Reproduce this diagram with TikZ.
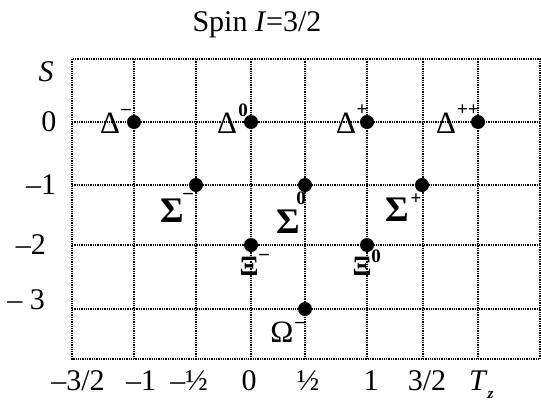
\documentclass[tikz,border=0pt]{standalone}
\usepackage{fontspec}
\setmainfont{Liberation Serif}
\begin{document}
\begin{tikzpicture}[x=1pt,y=-1pt,
  gridline/.style={densely dotted,line width=1.3pt},
  dot/.style={circle,fill=black,inner sep=0pt,minimum size=14pt},
  lbl/.style={inner sep=0pt,font=\fontsize{30}{34}\selectfont},
  grk/.style={inner sep=0pt,font=\fontsize{31}{34}\selectfont},
  xi/.style={inner sep=0pt,font=\fontsize{28}{30}\selectfont\bfseries},
  sig/.style={inner sep=0pt,font=\fontsize{36}{38}\selectfont\bfseries},
  sup/.style={inner sep=0pt,font=\fontsize{19}{21}\selectfont\bfseries}]
\useasboundingbox (0,0) rectangle (541,402);
% grid
\draw[gridline] (72,59) rectangle (540,359);
\foreach \x in {134,196,251,305,367,423,478} \draw[gridline] (\x,59) -- (\x,359);
\foreach \y in {122,185,245,309} \draw[gridline] (72,\y) -- (540,\y);
% title
\node[lbl,anchor=base] (title) at (257,31) {Spin \textit{I}=3/2};
% axis labels
\node[lbl] (S) at (46,72) {\textit{S}};
\node[lbl] (y0) at (49,122) {0};
\node[lbl] (y1) at (41,185) {–1};
\node[lbl] (y2) at (31,245) {–2};
\node[lbl] (y3) at (26,300) {– 3};
\node[lbl] (x1) at (78,381) {–3/2};
\node[lbl] (x2) at (141,381) {–1};
\node[lbl] (x3) at (189,381) {–½};
\node[lbl] (x4) at (249,381) {0};
\node[lbl] (x5) at (308,381) {½};
\node[lbl] (x6) at (371,381) {1};
\node[lbl] (x7) at (427,381) {3/2};
\node[lbl,anchor=base west] (x8) at (469,390) {\textit{T}\raisebox{-8pt}{\fontsize{15}{17}\selectfont\bfseries\textit{z}}};
% particles
\node[dot] (dm) at (134,122) {};
\node[dot] (d0) at (251,122) {};
\node[dot] (dp) at (367,122) {};
\node[dot] (dpp) at (478,122) {};
\node[dot] (sm) at (196,185) {};
\node[dot] (s0) at (305,185) {};
\node[dot] (sp) at (422,185) {};
\node[dot] (xm) at (251,245) {};
\node[dot] (x0) at (367,245) {};
\node[dot] (om) at (305,309) {};
% labels
\node[grk] (ldm) at (110,123) {Δ};
\node[sup] (ldms) at (126,112) {–};
\node[grk] (ld0) at (227,123) {Δ};
\node[sup] (ld0s) at (243,110) {0};
\node[grk] (ldp) at (346,123) {Δ};
\node[sup] (ldps) at (362,110) {+};
\node[grk] (ldpp) at (446,123) {Δ};
\node[sup] (ldpps) at (468,110) {++};
\node[sig] (lsm) at (172,211) {Σ};
\node[sup] (lsms) at (188,196) {–};
\node[sig] (ls0) at (288,222) {Σ};
\node[sup] (ls0s) at (301,198) {0};
\node[sig] (lsp) at (397,210) {Σ};
\node[sup] (lsps) at (416,199) {+};
\node[xi] (lxm) at (249,266) {Ξ};
\node[sup] (lxms) at (264,257) {–};
\node[xi] (lx0) at (362,266) {Ξ};
\node[sup] (lx0s) at (376,256) {0};
\node[grk] (lom) at (282,332) {Ω};
\node[sup] (loms) at (300,325) {–};
\end{tikzpicture}
\end{document}
